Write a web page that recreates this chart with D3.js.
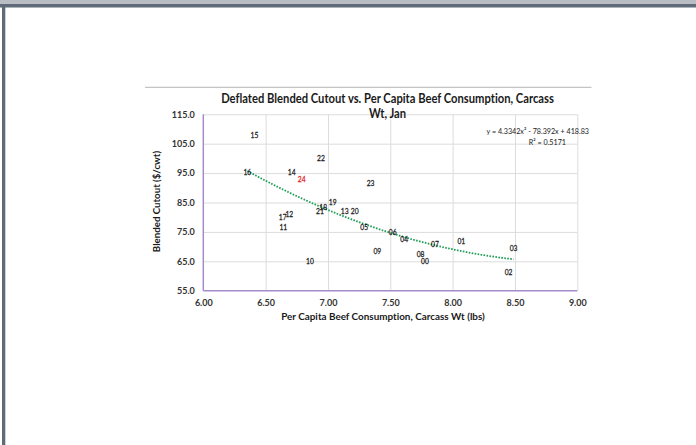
<!DOCTYPE html>
<html>
<head>
<meta charset="utf-8">
<script src="https://cdn.jsdelivr.net/npm/d3@7"></script>
<style>
  html, body { margin: 0; padding: 0; background: #fff; }
  svg { display: block; }
  text { font-variant-ligatures: none; font-feature-settings: "liga" 0; }
</style>
</head>
<body>
<svg id="chart" width="696" height="445"></svg>
<script>
// ---- data ----
const yearLabels = ["00","01","02","03","04","05","06","07","08","09","10","11","12",
                    "13","14","15","16","17","18","19","20","21","22","23","24"];
const consumption = [7.778, 8.070, 8.449, 8.489, 7.612, 7.291, 7.519, 7.858, 7.743, 7.396,
                     6.856, 6.642, 6.690, 7.134, 6.709, 6.410, 6.353, 6.637, 6.962, 7.038,
                     7.214, 6.936, 6.944, 7.342, 6.789];
const cutout = [64.9, 71.9, 61.3, 69.6, 72.4, 76.6, 74.9, 71.0, 67.6, 68.4,
                64.9, 76.6, 81.1, 81.9, 95.4, 107.9, 95.4, 79.9, 83.3, 85.0,
                81.9, 82.1, 100.0, 91.5, 92.9];
const highlightLabel = "24";
const xTicks = [6.0, 6.5, 7.0, 7.5, 8.0, 8.5, 9.0];
const yTicks = [55, 65, 75, 85, 95, 105, 115];
const trendCoef = [4.3342, -78.392, 418.83]; // a x^2 + b x + c
const equationText = "y = 4.3342x² - 78.392x + 418.83";
const r2Text = "R² = 0.5171";
const titleLines = ["Deflated Blended Cutout vs. Per Capita Beef Consumption, Carcass", "Wt, Jan"];
const xTitle = "Per Capita Beef Consumption, Carcass Wt (lbs)";
const yTitle = "Blended Cutout ($/cwt)";

// ---- layout ----
const svg = d3.select("#chart");
const W = 696, H = 445;
const plot = { left: 203.3, right: 577.3, top: 114.3, bottom: 290.7 };
const font = "Lato, 'Open Sans', sans-serif";
const ink = "#1a1a1a";

// outer frame
svg.append("rect").attr("x", 0).attr("y", 0).attr("width", W).attr("height", 4).attr("fill", "#b8bec4");
svg.append("rect").attr("x", 0).attr("y", 4).attr("width", W).attr("height", 3.5).attr("fill", "#5f6b78");
svg.append("rect").attr("x", 2).attr("y", 4).attr("width", 3.3).attr("height", H - 4).attr("fill", "#5f6b78");

// top separator line
svg.append("line").attr("x1", 145).attr("x2", 591.5).attr("y1", 87.3).attr("y2", 87.3)
  .attr("stroke", "#c4c4c4").attr("stroke-width", 1.3);

const x = d3.scaleLinear().domain([xTicks[0], xTicks[xTicks.length - 1]]).range([plot.left, plot.right]);
const y = d3.scaleLinear().domain([yTicks[0], yTicks[yTicks.length - 1]]).range([plot.bottom, plot.top]);

// gridlines
svg.append("g").attr("transform", `translate(0,${plot.bottom})`)
  .call(d3.axisBottom(x).tickValues(xTicks.slice(1)).tickSize(-(plot.bottom - plot.top)).tickFormat(""))
  .call(g => g.select(".domain").remove())
  .call(g => g.selectAll("line").attr("stroke", "#dcdcdc").attr("stroke-width", 1));
svg.append("g").attr("transform", `translate(${plot.left},0)`)
  .call(d3.axisLeft(y).tickValues(yTicks.slice(1)).tickSize(-(plot.right - plot.left)).tickFormat(""))
  .call(g => g.select(".domain").remove())
  .call(g => g.selectAll("line").attr("stroke", "#dcdcdc").attr("stroke-width", 1));

// axis lines
svg.append("line").attr("x1", plot.left).attr("x2", plot.left).attr("y1", plot.top).attr("y2", plot.bottom)
  .attr("stroke", "#a58cc8").attr("stroke-width", 1.5);
svg.append("line").attr("x1", plot.left).attr("x2", plot.right).attr("y1", plot.bottom).attr("y2", plot.bottom)
  .attr("stroke", "#a58cc8").attr("stroke-width", 1.5);

// tick labels
svg.append("g").attr("transform", `translate(0,${plot.bottom})`)
  .call(d3.axisBottom(x).tickValues(xTicks).tickSize(0).tickPadding(9).tickFormat(d3.format(".2f")))
  .call(g => g.select(".domain").remove())
  .call(g => g.selectAll("text").attr("font-family", font).attr("font-size", 9).attr("font-weight", "bold").attr("fill", "#333"));
svg.append("g").attr("transform", `translate(${plot.left},0)`)
  .call(d3.axisLeft(y).tickValues(yTicks).tickSize(0).tickPadding(8.5).tickFormat(d3.format(".1f")))
  .call(g => g.select(".domain").remove())
  .call(g => g.selectAll("text").attr("font-family", font).attr("font-size", 9).attr("font-weight", "bold").attr("fill", "#333"));

// trendline
const xs = d3.extent(consumption);
const trendPts = d3.range(0, 101).map(i => {
  const xv = xs[0] + (xs[1] - xs[0]) * i / 100;
  return [xv, trendCoef[0] * xv * xv + trendCoef[1] * xv + trendCoef[2]];
});
svg.append("path")
  .attr("d", d3.line().x(d => x(d[0])).y(d => y(d[1]))(trendPts))
  .attr("fill", "none").attr("stroke", "#1f9e55").attr("stroke-width", 1.8)
  .attr("stroke-dasharray", "1.6,1.4");

// point labels (narrowed to resemble the condensed original face)
svg.append("g").selectAll("text")
  .data(yearLabels.map((l, i) => ({ l, xv: consumption[i], yv: cutout[i] })))
  .join("text")
  .attr("transform", d => `translate(${x(d.xv)},${y(d.yv)}) scale(0.82,1)`)
  .attr("dy", "0.35em").attr("text-anchor", "middle")
  .attr("font-family", font).attr("font-size", 8.2)
  .attr("fill", d => d.l === highlightLabel ? "#e02020" : ink)
  .attr("stroke", d => d.l === highlightLabel ? "#e02020" : ink).attr("stroke-width", 0.25)
  .text(d => d.l);

// equation
svg.append("text").attr("transform", "translate(589,131) scale(0.92,1)").attr("dy", "0.35em").attr("text-anchor", "end")
  .attr("font-family", font).attr("font-size", 7.8).attr("fill", ink).text(equationText);
svg.append("text").attr("transform", "translate(566,142) scale(0.92,1)").attr("dy", "0.35em").attr("text-anchor", "end")
  .attr("font-family", font).attr("font-size", 7.8).attr("fill", ink).text(r2Text);

// title
svg.append("text").attr("transform", "translate(387.5,0) scale(0.89,1)").attr("text-anchor", "middle")
  .attr("font-family", font).attr("font-size", 12.6).attr("font-weight", "bold").attr("fill", ink)
  .selectAll("tspan").data(titleLines).join("tspan")
  .attr("x", 0).attr("y", (d, i) => 98.3 + i * 15).attr("dy", "0.35em").text(d => d);

// axis titles
svg.append("text").attr("x", 383).attr("y", 316.7).attr("dy", "0.35em").attr("text-anchor", "middle")
  .attr("font-family", font).attr("font-size", 9.9).attr("font-weight", "bold").attr("fill", ink)
  .text(xTitle);
svg.append("text").attr("transform", `translate(157,${(plot.top + plot.bottom) / 2 - 1}) rotate(-90)`)
  .attr("dy", "0.35em").attr("text-anchor", "middle")
  .attr("font-family", font).attr("font-size", 9.7).attr("font-weight", "bold").attr("fill", ink)
  .text(yTitle);
</script>
</body>
</html>
